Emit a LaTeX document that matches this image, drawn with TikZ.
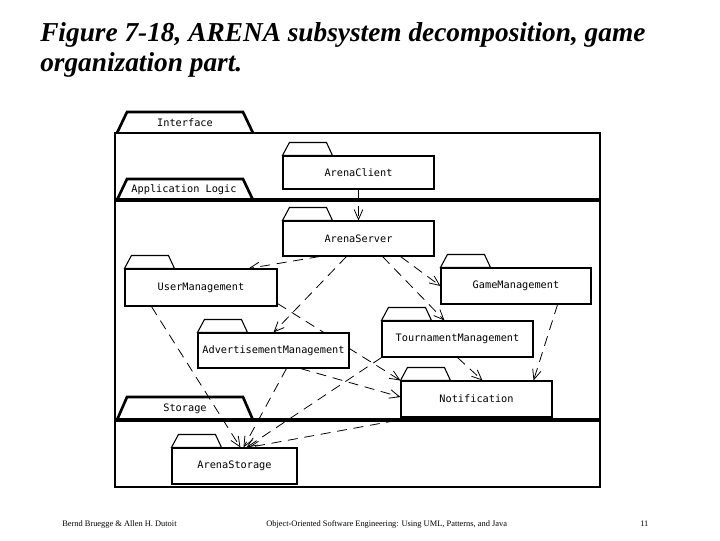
\documentclass[tikz,border=0pt]{standalone}
\usepackage{fontspec}
\setmainfont{Liberation Serif}
\newfontfamily\pkgfont{DejaVu Sans Mono}
\usetikzlibrary{arrows.meta,calc}
\pgfdeclarelayer{bg}
\pgfsetlayers{bg,main}
\begin{document}
\begin{tikzpicture}[x=0.75pt,y=-0.75pt,
  pkgsize/.style 2 args={minimum width=#1*0.75pt, minimum height=#2*0.75pt},
  pkgtab/.style={draw, fill=white, line width=0.8pt, line join=miter},
  pkg/.style={draw, fill=white, line width=0.8pt, inner sep=0pt,
    font=\pkgfont\fontsize{7.7}{9}\selectfont,
    append after command={\pgfextra{\draw[pkgtab]
      (\tikzlastnode.north west) -- ++(7,-13) -- ++(37,0) -- ++(6,13) -- cycle;}}},
  bigtab/.style={draw, line width=2pt, line join=miter},
  frameline/.style={line width=2.2pt},
  sepline/.style={line width=3.6pt},
  tablabel/.style={font=\pkgfont\fontsize{7.7}{9}\selectfont, inner sep=0pt},
  dep/.style={line width=0.6pt, dash pattern=on 7.5pt off 5pt,
    -{Straight Barb[length=7.5pt,width=6.5pt]}},
  titletext/.style={font=\fontsize{20.5}{24}\selectfont\bfseries\itshape, inner sep=0pt, anchor=base west},
  foot/.style={font=\fontsize{6.3}{7}\selectfont, inner sep=0pt, anchor=base west}]
\useasboundingbox (0,0) rectangle (720,540);

% title
\node[titletext] (t1) at (40,41) {Figure 7-18, ARENA subsystem decomposition, game};
\node[titletext] (t2) at (40,71) {organization part.};

% frames
\draw[frameline] (115,133) rectangle (600,487);
\draw[sepline] (114,200) -- (601,200);
\draw[sepline] (114,420) -- (601,420);
\draw[bigtab] (117,133) -- (127,112) -- (243,112) -- (253,133);
\draw[bigtab] (117,200) -- (127,179) -- (243,179) -- (253,200);
\draw[bigtab] (117,420) -- (127,397) -- (243,397) -- (253,420);
\node[tablabel] (lif) at (185,123) {Interface};
\node[tablabel] (lal) at (184,190) {Application Logic};
\node[tablabel] (lst) at (185,409) {Storage};

% packages
\node[pkg, pkgsize={151}{33}] (cli) at (358.5,172.5) {ArenaClient};
\node[pkg, pkgsize={151}{35}] (srv) at (358.5,238.5) {ArenaServer};
\node[pkg, pkgsize={152}{37}] (um)  at (201,287.5) {UserManagement};
\node[pkg, pkgsize={150}{36}] (gm)  at (516,286) {GameManagement};
\node[pkg, pkgsize={151}{36}] (tm)  at (457.5,339) {TournamentManagement};
\node[pkg, pkgsize={151}{35}] (adv) at (273.5,350.5) {AdvertisementManagement};
\node[pkg, pkgsize={151}{36}] (nt)  at (476.5,399) {Notification};
\node[pkg, pkgsize={125}{36}] (as)  at (234.5,466) {ArenaStorage};

% dependencies
\begin{pgfonlayer}{bg}
\coordinate (asin) at ($(as.north west)+(73,0)$);
\draw[dep] (cli.south) -- (srv.north);
\draw[dep] ($(srv.south west)+(37,0)$) -- ($(um.north east)+(-29,0)$);
\draw[dep] ($(srv.south west)+(64,0)$) -- (adv.north);
\draw[dep] ($(srv.south east)+(-34,0)$) -- (gm.west);
\draw[dep] ($(srv.south east)+(-52,0)$) -- ($(tm.north west)+(63,0)$);
\draw[dep] ($(um.south west)+(27,0)$) -- ($(asin)+(-4,0)$);
\draw[dep] ($(um.south east)+(0,-3)$) -- (nt.north west);
\draw[dep] ($(adv.south east)+(-49,0)$) -- ($(nt.west)+(0,-2)$);
\draw[dep] ($(adv.south west)+(89,0)$) -- ($(asin)+(-1,0)$);
\draw[dep] (tm.south west) -- ($(asin)+(2,0)$);
\draw[dep] ($(nt.south west)+(12,0)$) -- ($(asin)+(4,0)$);
\draw[dep] (tm.south) -- ($(nt.north west)+(82,0)$);
\draw[dep] ($(gm.south east)+(-34,0)$) -- ($(nt.north east)+(-19,0)$);
\end{pgfonlayer}

% footer
\node[foot] (f1) at (62,526) {Bernd Bruegge \& Allen H. Dutoit};
\node[foot] (f2) at (266,526) {Object-Oriented Software Engineering: Using UML, Patterns, and Java};
\node[foot] (f3) at (640,526) {11};
\end{tikzpicture}
\end{document}
